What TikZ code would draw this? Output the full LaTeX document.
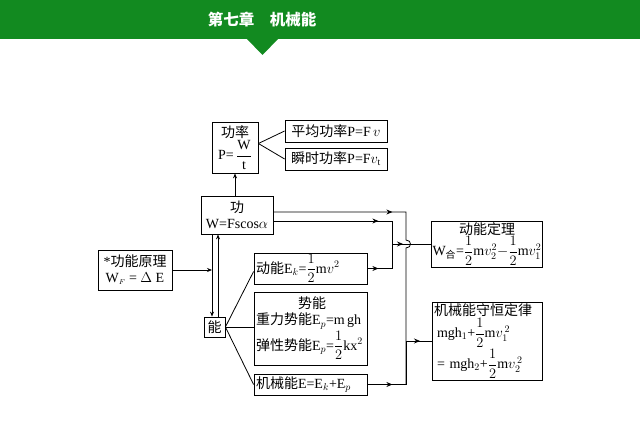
\documentclass[tikz,border=0pt]{standalone}
\usepackage{fontspec}
\usepackage{amsmath}
\setmainfont{Liberation Serif}
\newfontfamily\cjk{Noto Sans CJK SC}
\usetikzlibrary{arrows.meta,decorations.markings,calc}
\definecolor{hdgreen}{RGB}{18,138,32}
\newcommand{\zh}[1]{{\cjk #1}}
\newcommand{\hf}{\ensuremath{\dfrac{1}{2}}}
\begin{document}
\begin{tikzpicture}[x=1pt,y=-1pt,
  box/.style={draw,line width=0.8pt,inner sep=1pt,align=center,font=\fontsize{14}{16}\selectfont},
  ln/.style={line width=0.8pt},
  mk/.style={ln,postaction={decorate,decoration={markings,mark=at position #1 with {\arrow{Stealth[length=6pt,width=5pt]}}}}},
  tip/.style={ln,-{Stealth[length=5pt,width=4pt]}}]
\useasboundingbox (0,0) rectangle (640,427);
% header
\fill[hdgreen] (0,0) rectangle (640,39);
\fill[hdgreen] (246,38) -- (279,38) -- (262.5,55) -- cycle;
\node[text=white,font=\cjk\bfseries\fontsize{15.5}{17}\selectfont] (title) at (262,20) {第七章\hspace{1em}机械能};
% boxes
\node[box,minimum width=46,minimum height=51] (gl) at (235,147.5) {\zh{功率}\\[1pt] P=\,$\dfrac{\mathrm{W}}{\mathrm{t}}$};
\node[box,minimum width=102,minimum height=22] (pj) at (336,131) {\zh{平均功率}P=F\,$v$};
\node[box,minimum width=102,minimum height=22] (ss) at (336,159) {\zh{瞬时功率}P=F$v_{\mathrm{t}}$};
\node[box,minimum width=72,minimum height=38] (gong) at (237,215) {\zh{功}\\W=Fscos$\alpha$};
\node[box,minimum width=74,minimum height=40] (gnyl) at (135,270) {*\zh{功能原理}\\W$_{\scriptscriptstyle F}$ = $\Delta$ E};
\node[box,minimum width=21,minimum height=20,inner sep=0pt] (neng) at (214.5,327) {\zh{能}};
\node[box,minimum width=113,minimum height=31,align=left,text width=109] (dn) at (310.5,268.5) {\zh{动能}E$_k$=\hf m$v^2$};
\node[box,minimum width=113,minimum height=73,align=left,text width=109] (sn) at (310.5,328.5) {\hspace*{42pt}\zh{势能}\\ \zh{重力势能}E$_p$=m\,gh\\[1pt] \zh{弹性势能}E$_p$=\hf kx$^2$};
\node[box,minimum width=113,minimum height=21,align=left,text width=109] (jxn) at (310.5,384.5) {\zh{机械能}E=E$_k$+E$_p$};
\node[box,minimum width=110,minimum height=46] (dndl) at (487,244) {\zh{动能定理}\\ W$_{\text{\zh{合}}}$=\hf m$v_2^2$$-$\hf m$v_1^2$};
\node[box,minimum width=110,minimum height=78,align=left,text width=106] (sh) at (487,341) {\zh{机械能守恒定律}\\[1pt] \hspace*{3pt}mgh$_1$+\hf m$v_1^{\,2}$\\[1pt] \hspace*{3pt}= mgh$_2$+\hf m$v_2^{\,2}$};
% helper coordinates
\coordinate (xa) at (392,244);
\coordinate (xb) at (406,341);
\path (neng.north) ++(-2.5,0) coordinate (nl) ++(6,0) coordinate (nr);
% power links
\draw[tip] (gl.south |- gong.north) -- (gl.south);
\draw[ln] ([yshift=4pt]gl.east) -- (pj.west);
\draw[ln] ([yshift=4pt]gl.east) -- (ss.west);
% work <-> energy
\draw[tip] (gnyl.east) -- (gnyl.east -| nl);
\draw[tip] (nl |- gong.south) -- (nl);
\draw[tip] (nr) -- (nr |- gong.south);
\draw[ln] (neng.east) -- ([yshift=-3pt]dn.west);
\draw[ln] (neng.east) -- (neng.east -| sn.west);
\draw[ln] (neng.east) -- (jxn.west);
% right side
\draw[mk=119pt] ([yshift=3pt]gong.east) -| ($(xb |- xa)+(0,-4)$) .. controls +(6,0) and +(6,0) .. ($(xb |- xa)+(0,4)$) -- (xb |- jxn.east);
\draw[mk=25pt] (jxn.east) -| (xb);
\draw[mk=14pt] (xb) -- (xb -| sh.west);
\draw[mk=105pt] ([yshift=-6pt]gong.east) -| (xa);
\draw[mk=11pt] (dn.east) -| (xa);
\draw[mk=11pt] (xa) -- (xa -| dndl.west);
\end{tikzpicture}
\end{document}
